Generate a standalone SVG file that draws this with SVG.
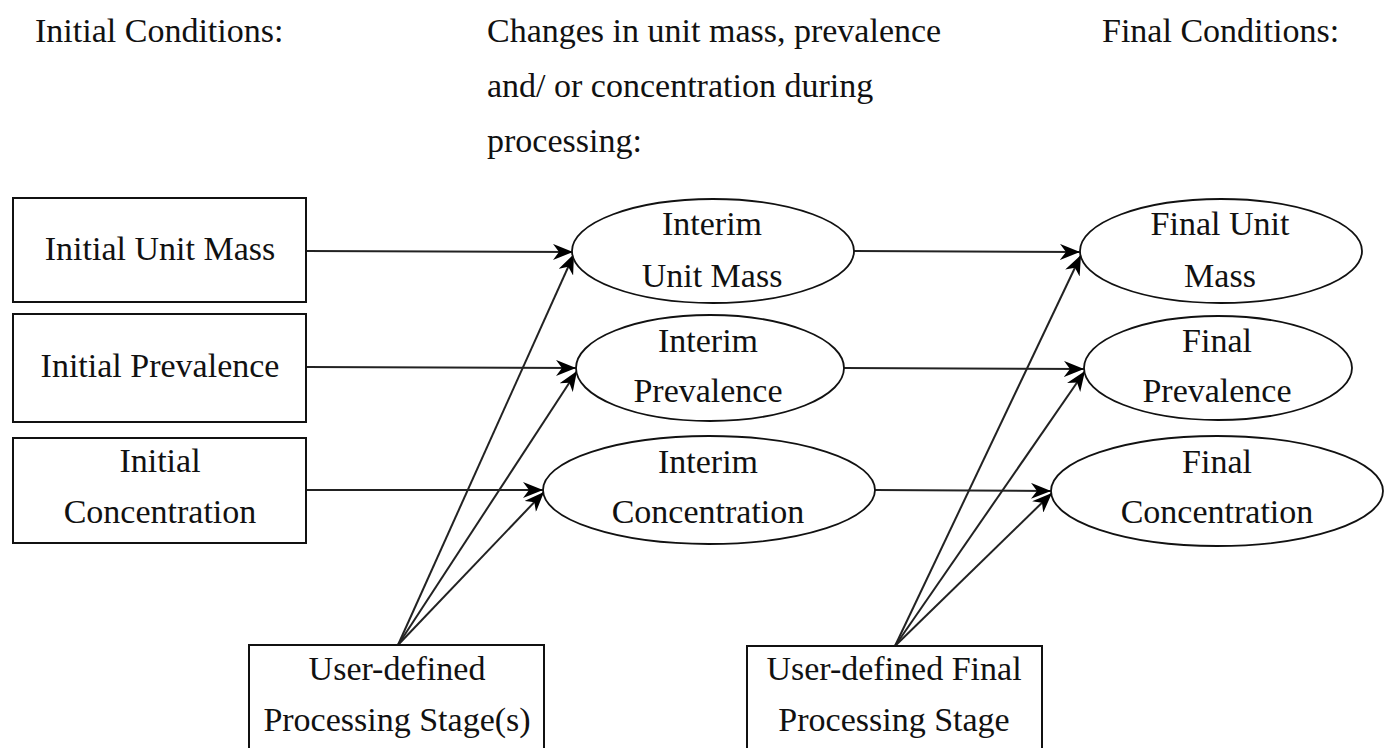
<svg xmlns="http://www.w3.org/2000/svg" width="1388" height="748" viewBox="0 0 1388 748">
<style>
text{font-family:"Liberation Serif","DejaVu Serif",serif;font-size:34px;fill:#111;}
.c{text-anchor:middle;}
.box{fill:#fff;stroke:#111;stroke-width:2;}
.ell{fill:#fff;stroke:#111;stroke-width:1.8;}
.ln{fill:none;stroke:#222;stroke-width:2;marker-end:url(#ah);}
</style>
<defs>
<marker id="ah" viewBox="0 0 20 16" refX="20" refY="8" markerWidth="20" markerHeight="16" markerUnits="userSpaceOnUse" orient="auto">
<path d="M0,0 L20,8 L0,16 L6,8 Z" fill="#000"/>
</marker>
</defs>
<rect width="1388" height="748" fill="#fff"/>
<g id="headers">
<text x="35" y="42">Initial Conditions:</text>
<text x="487" y="42">Changes in unit mass, prevalence</text>
<text x="487" y="97">and/ or concentration during</text>
<text x="487" y="152">processing:</text>
<text x="1102" y="42">Final Conditions:</text>
</g>
<g id="connectors">
<line class="ln" x1="306" y1="251" x2="573" y2="252"/>
<line class="ln" x1="306" y1="367" x2="576" y2="368"/>
<line class="ln" x1="306" y1="490" x2="543" y2="490"/>
<line class="ln" x1="854" y1="251" x2="1080" y2="252"/>
<line class="ln" x1="844" y1="368" x2="1084" y2="369"/>
<line class="ln" x1="875" y1="490" x2="1051" y2="491"/>
<line class="ln" x1="398" y1="645" x2="574" y2="254"/>
<line class="ln" x1="398" y1="645" x2="577" y2="371"/>
<line class="ln" x1="398" y1="645" x2="544" y2="492"/>
<line class="ln" x1="895" y1="646" x2="1081" y2="255"/>
<line class="ln" x1="895" y1="646" x2="1085" y2="371"/>
<line class="ln" x1="895" y1="646" x2="1052" y2="493"/>
</g>
<g id="initial-unit-mass">
<rect class="box" x="13" y="198" width="293" height="104"/>
<text class="c" x="160" y="260">Initial Unit Mass</text>
</g>
<g id="initial-prevalence">
<rect class="box" x="13" y="314" width="293" height="108"/>
<text class="c" x="160" y="377">Initial Prevalence</text>
</g>
<g id="initial-concentration">
<rect class="box" x="13" y="438" width="293" height="105"/>
<text class="c" x="160" y="472">Initial</text>
<text class="c" x="160" y="523">Concentration</text>
</g>
<g id="interim-unit-mass">
<ellipse class="ell" cx="713" cy="251" rx="141" ry="52"/>
<text class="c" x="712" y="235">Interim</text>
<text class="c" x="712" y="287">Unit Mass</text>
</g>
<g id="interim-prevalence">
<ellipse class="ell" cx="710" cy="368" rx="134" ry="53"/>
<text class="c" x="708" y="352">Interim</text>
<text class="c" x="708" y="402">Prevalence</text>
</g>
<g id="interim-concentration">
<ellipse class="ell" cx="709" cy="490" rx="166" ry="54"/>
<text class="c" x="708" y="473">Interim</text>
<text class="c" x="708" y="523">Concentration</text>
</g>
<g id="final-unit-mass">
<ellipse class="ell" cx="1221" cy="251" rx="141" ry="52"/>
<text class="c" x="1220" y="235">Final Unit</text>
<text class="c" x="1220" y="287">Mass</text>
</g>
<g id="final-prevalence">
<ellipse class="ell" cx="1218" cy="368" rx="134" ry="52"/>
<text class="c" x="1217" y="352">Final</text>
<text class="c" x="1217" y="402">Prevalence</text>
</g>
<g id="final-concentration">
<ellipse class="ell" cx="1217" cy="491" rx="166" ry="55"/>
<text class="c" x="1217" y="473">Final</text>
<text class="c" x="1217" y="523">Concentration</text>
</g>
<g id="user-stage">
<rect class="box" x="249" y="645" width="295" height="110"/>
<text class="c" x="397" y="680">User-defined</text>
<text class="c" x="397" y="731">Processing Stage(s)</text>
</g>
<g id="user-final-stage">
<rect class="box" x="747" y="646" width="295" height="110"/>
<text class="c" x="894" y="680">User-defined Final</text>
<text class="c" x="894" y="731">Processing Stage</text>
</g>
</svg>
